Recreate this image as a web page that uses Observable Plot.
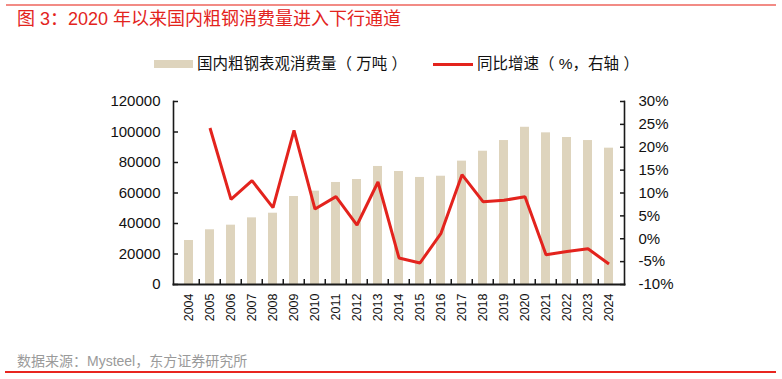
<!DOCTYPE html>
<html>
<head>
<meta charset="utf-8">
<script src="https://cdn.jsdelivr.net/npm/d3@7"></script>
<script src="https://cdn.jsdelivr.net/npm/@observablehq/plot@0.6"></script>
<style>
  html, body { margin: 0; padding: 0; background: #fff; }
  #wrap { position: relative; width: 782px; height: 379px; overflow: hidden; font-family: "Liberation Sans", Arial, "Noto Sans CJK SC", sans-serif; }
  .cjk { font-family: "Liberation Sans", "Noto Sans CJK SC", sans-serif; }
  #topline { position: absolute; left: 6px; top: 4px; width: 770px; height: 2px; background: #f28b85; }
  #title { position: absolute; left: 17px; top: 8px; font-size: 18px; color: #e3241d; white-space: nowrap; line-height: 22px; }
  #legend { position: absolute; left: 0; top: 52px; width: 782px; height: 24px; font-size: 15.5px; color: #111; }
  .sw { position: absolute; }
  .lt { position: absolute; top: 2px; white-space: nowrap; line-height: 20px; }
  #footer { position: absolute; left: 17px; top: 352px; font-size: 14px; color: #9a9a9a; white-space: nowrap; line-height: 18px; }
  #botline { position: absolute; left: 5px; top: 371px; width: 771px; height: 1.5px; background: #e8251f; }
  #chart { position: absolute; left: 0; top: 0; }
</style>
</head>
<body>
<div id="wrap">
  <div id="chart"></div>
  <div id="topline"></div>
  <div id="title" class="cjk">图 3：2020 年以来国内粗钢消费量进入下行通道</div>
  <div id="legend" class="cjk"></div>
  <div id="footer" class="cjk">数据来源：Mysteel，东方证券研究所</div>
  <div id="botline"></div>
</div>
<script>
const years = ["2004","2005","2006","2007","2008","2009","2010","2011","2012","2013","2014","2015","2016","2017","2018","2019","2020","2021","2022","2023","2024"];
const consumption = [28850, 35870, 38900, 43700, 46750, 57700, 61200, 66900, 68850, 77400, 74100, 70200, 71000, 80900, 87400, 94400, 103100, 99450, 96400, 94400, 89400];
const growthYears = years.slice(1);
const growth = [24.2, 8.6, 12.7, 6.8, 23.7, 6.5, 9.2, 3.0, 12.4, -4.2, -5.3, 1.2, 14.0, 8.1, 8.4, 9.2, -3.5, -2.8, -2.2, -5.5];
const leftTicks = [0, 20000, 40000, 60000, 80000, 100000, 120000];
const rightTicks = [-10, -5, 0, 5, 10, 15, 20, 25, 30];
const rightTickLabels = ["-10%", "-5%", "0%", "5%", "10%", "15%", "20%", "25%", "30%"];
const seriesNames = ["国内粗钢表观消费量（ 万吨 ）", "同比增速（ %，右轴 ）"];

const barColor = "#ded4bd";
const lineColor = "#e3231d";
const axisColor = "#1a1a1a";

// right axis (%) mapped onto the left scale: -10%..30% -> 0..120000
const rMin = -10, rMax = 30, lMax = 120000;
const toLeft = p => (p - rMin) / (rMax - rMin) * lMax;

const bars = years.map((y, i) => ({year: y, value: consumption[i]}));
const line = growthYears.map((y, i) => ({year: y, pct: growth[i]}));

const W = 782, H = 379;
const mL = 173, mR = 158, mT = 101, mB = 95;
const step = (W - mL - mR) / years.length;
const tickLenData = 5 / (H - mT - mB) * lMax;

const chart = Plot.plot({
  width: W, height: H,
  marginLeft: mL, marginRight: mR, marginTop: mT, marginBottom: mB,
  style: {fontFamily: "'Liberation Sans', Arial, sans-serif", background: "transparent", overflow: "visible"},
  x: {type: "band", domain: years, paddingInner: 0.57, paddingOuter: 0.285, axis: null},
  y: {domain: [0, lMax], axis: null},
  marks: [
    Plot.barY(bars, {x: "year", y: "value", fill: barColor}),
    Plot.line(line, {x: "year", y: d => toLeft(d.pct), stroke: lineColor, strokeWidth: 3, strokeLinejoin: "miter", strokeLinecap: "butt"}),
    Plot.frame({anchor: "left", stroke: axisColor, strokeWidth: 1.6}),
    Plot.frame({anchor: "right", stroke: axisColor, strokeWidth: 1.6}),
    Plot.frame({anchor: "bottom", stroke: axisColor, strokeWidth: 2}),
    Plot.ruleX(years.slice(1), {x: d => d, dx: -step / 2, y1: 0, y2: tickLenData, stroke: axisColor, strokeWidth: 1.5}),
    Plot.axisY(leftTicks, {anchor: "left", label: null, tickSize: -5, tickPadding: 18, tickFormat: d => String(d), fontSize: 15, fill: "#111", stroke: axisColor, strokeWidth: 1.5}),
    Plot.axisY(rightTicks.map(toLeft), {anchor: "right", label: null, tickSize: -5, tickPadding: 19, tickFormat: (d, i) => rightTickLabels[i], fontSize: 15, fill: "#111", stroke: axisColor, strokeWidth: 1.5}),
    Plot.axisX(years, {anchor: "bottom", label: null, tickSize: 0, tickPadding: 9, tickRotate: -90, fontSize: 12.5, fill: "#111"})
  ]
});
document.getElementById("chart").appendChild(chart);

const legend = document.getElementById("legend");
legend.innerHTML =
  `<div class="sw" style="left:154px;top:8px;width:39px;height:8px;background:${barColor}"></div>` +
  `<div class="lt" style="left:197px">${seriesNames[0]}</div>` +
  `<div class="sw" style="left:433px;top:11px;width:40px;height:3px;background:${lineColor}"></div>` +
  `<div class="lt" style="left:477px">${seriesNames[1]}</div>`;
</script>
</body>
</html>
